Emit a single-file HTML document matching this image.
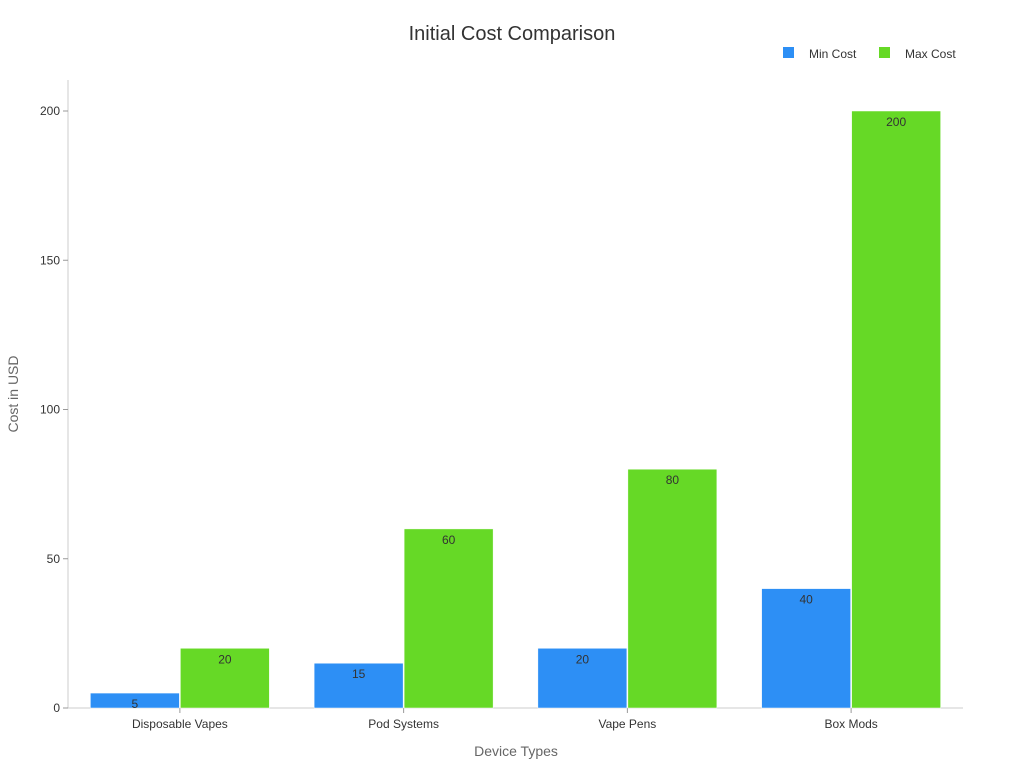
<!DOCTYPE html>
<html><head><meta charset="utf-8"><style>
body{margin:0;background:#fff;}
svg{display:block;font-family:"Liberation Sans","DejaVu Sans",sans-serif;}
</style></head><body>
<svg id="chart" width="1024" height="768" viewBox="0 0 1024 768">
<text x="512" y="40" text-anchor="middle" font-size="20" fill="#333">Initial Cost Comparison</text>
<g>
<rect x="783" y="47" width="11" height="11" fill="#2d8ff5"/>
<text x="809" y="58" font-size="12" fill="#333">Min Cost</text>
<rect x="879" y="47" width="11" height="11" fill="#66d926"/>
<text x="905" y="58" font-size="12" fill="#333">Max Cost</text>
</g>
<line x1="68" y1="80" x2="68" y2="708" stroke="#ccc"/>
<line x1="68" y1="708" x2="963" y2="708" stroke="#ccc"/>
<text transform="translate(18,394) rotate(-90)" text-anchor="middle" font-size="14" fill="#666">Cost in USD</text>
<text x="516" y="756" text-anchor="middle" font-size="14" fill="#666">Device Types</text>
<g id="ticks"></g><g id="bars"></g><defs id="defs"></defs>
</svg>
<script>
const categories = ["Disposable Vapes","Pod Systems","Vape Pens","Box Mods"];
const minCost = [5,15,20,40];
const maxCost = [20,60,80,200];
const yTicks = [0,50,100,150,200];
const NS="http://www.w3.org/2000/svg";
const X0=68,X1=963,Y0=708,YTOP=111,YMAX=200;
const y=v=>Y0-(v/YMAX)*(Y0-YTOP);
const band=(X1-X0)/categories.length;
const bx=i=>X0+band*i+band/2;
function mk(tag,attrs,parent){const e=document.createElementNS(NS,tag);for(const k in attrs)e.setAttribute(k,attrs[k]);parent.appendChild(e);return e;}
const tg=document.getElementById('ticks'),bg=document.getElementById('bars'),defs=document.getElementById('defs');
yTicks.forEach(t=>{
  const l=mk('line',{x1:X0-5,x2:X0,y1:y(t),y2:y(t),stroke:'#999'},tg);
  
  
  const tx=mk('text',{x:X0-8,y:y(t)+4,'text-anchor':'end','font-size':12,fill:'#333'},tg);
  tx.textContent=t;
  
  
});
const bw=89;
categories.forEach((c,i)=>{
  const cx=bx(i);
  const tk=mk('line',{x1:cx,x2:cx,y1:Y0,y2:Y0+5,stroke:'#999'},tg);
  
  
  const lb=mk('text',{x:cx,y:Y0+20,'text-anchor':'middle','font-size':12,fill:'#333'},tg);
  lb.textContent=c;
  
  
  [[minCost[i],cx-bw-0.5,'#2d8ff5','min'],[maxCost[i],cx+0.5,'#66d926','max']].forEach(([v,x,col,k])=>{
    const top=y(v),h=Y0-top;
    const cp=mk('clipPath',{id:'cp'+k+i},defs);
    mk('rect',{x:x,y:top,width:bw,height:h},cp);
    const r=mk('rect',{x:x,y:top,width:bw,height:h,fill:col,stroke:'#fff','stroke-width':0.5},bg);
    
    
    const t=mk('text',{x:x+bw/2,y:top+15,'text-anchor':'middle','font-size':12,fill:'#333','clip-path':'url(#cp'+k+i+')'},bg);
    t.textContent=v;
    
    
  });
});
</script>
</body></html>
